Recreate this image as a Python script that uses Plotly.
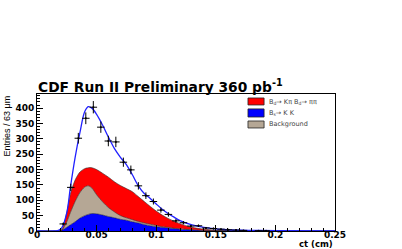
import plotly.graph_objects as go

# ---- data ----
grid_x = [0, 0.015, 0.018, 0.021, 0.025, 0.028, 0.032, 0.036, 0.040, 0.043, 0.046, 0.050,
          0.055, 0.060, 0.065, 0.070, 0.075, 0.080, 0.085, 0.090, 0.095, 0.100, 0.105,
          0.110, 0.115, 0.120, 0.130, 0.140, 0.150, 0.160, 0.180, 0.200, 0.250]
total_fit = [0, 0, 2, 12, 60, 142, 240, 320, 388, 405, 400, 380,
             345, 305, 268, 240, 216, 183, 147, 122, 106, 88, 71,
             57, 45, 34, 20, 12, 7, 4, 2, 1, 0.3]
bd_top = [0, 0, 0, 5, 60, 120, 166, 192, 203, 206, 206, 200,
          188, 175, 160, 148, 138, 128, 112, 96, 80, 65, 52,
          41, 32, 24, 12, 6, 3, 1.5, 0.5, 0.2, 0]
bkg_top = [0, 0, 0, 3, 30, 60, 96, 125, 143, 147, 140, 118,
           95, 76, 62, 50, 43, 37, 31, 26, 22, 18, 14,
           12, 9, 7, 4, 2, 1.5, 1, 0.4, 0.1, 0]
bs_kk = [0, 0, 0, 3, 12, 20, 30, 42, 50, 54, 57, 56,
         52, 47, 43, 38, 35, 30, 26, 21, 17, 14, 12,
         10, 8, 6, 4, 2, 1.5, 1, 0.4, 0.1, 0]

data_x = [0.02205, 0.02835, 0.03465, 0.04095, 0.04725, 0.05355, 0.05985, 0.06615,
          0.07245, 0.07875, 0.08505, 0.09135, 0.09765, 0.10395, 0.11025, 0.11655,
          0.12285, 0.12915, 0.13545, 0.14175, 0.14805, 0.15435, 0.16065, 0.16695,
          0.17325, 0.18585, 0.19215]
data_y = [23, 142, 302, 367, 403, 338, 293, 290,
          224, 199, 147, 115, 96, 68, 54, 33,
          27, 16, 17, 10, 8, 6, 4, 3,
          2, 1, 1]
data_err = [v ** 0.5 for v in data_y]
half_bin = 0.00315

x_ticks = [0, 0.05, 0.1, 0.15, 0.2, 0.25]
x_ticklabels = ["0", "0.05", "0.1", "0.15", "0.2", "0.25"]
y_ticks = [0, 50, 100, 150, 200, 250, 300, 350, 400]

legend_labels = ["B<sub>d</sub>\u2192 K\u03c0 B<sub>d</sub>\u2192 \u03c0\u03c0",
                 "B<sub>s</sub>\u2192 K K", "Background"]
legend_colors = ["#ff0000", "#0000ff", "#b5a795"]

BOLD = "DejaVu Sans"

fig = go.Figure()
fig.add_trace(go.Scatter(x=grid_x, y=bs_kk, mode="lines", fill="tozeroy",
                         fillcolor="#0000ff", line=dict(color="#202040", width=0.6, shape="spline", smoothing=0.8)))
fig.add_trace(go.Scatter(x=grid_x, y=bkg_top, mode="lines", fill="tonexty",
                         fillcolor="#b5a795", line=dict(color="#333333", width=0.6, shape="spline", smoothing=0.8)))
fig.add_trace(go.Scatter(x=grid_x, y=bd_top, mode="lines", fill="tonexty",
                         fillcolor="#ff0000", line=dict(color="#333333", width=0.6, shape="spline", smoothing=0.8)))
fig.add_trace(go.Scatter(x=grid_x, y=total_fit, mode="lines",
                         line=dict(color="#2020ff", width=1.3, shape="spline", smoothing=1.0)))
fig.add_trace(go.Scatter(x=data_x, y=data_y, mode="markers",
                         marker=dict(size=2, color="black"),
                         error_y=dict(type="data", array=data_err, color="black", thickness=1, width=0),
                         error_x=dict(type="constant", value=half_bin, color="black", thickness=1, width=0)))

# legend drawn inside the frame
sw_y = [(0.971, 0.920), (0.891, 0.832), (0.803, 0.752)]
txt_y = [0.945, 0.861, 0.781]
for lab, col, (y1, y0), ty in zip(legend_labels, legend_colors, sw_y, txt_y):
    fig.add_shape(type="rect", xref="paper", yref="paper", x0=0.708, x1=0.762, y0=y0, y1=y1,
                  fillcolor=col, line=dict(color="#222222", width=0.8))
    fig.add_annotation(xref="paper", yref="paper", x=0.772, y=ty, text=lab, showarrow=False,
                       xanchor="left", yanchor="middle", font=dict(family="DejaVu Sans", size=6.5, color="#444444"))

fig.add_annotation(xref="paper", yref="paper", x=-0.003, y=0.975, xanchor="left", yanchor="bottom",
                   text="CDF Run II Preliminary 360 pb<sup>-1</sup>", showarrow=False,
                   font=dict(family=BOLD, size=13.8, color="black", weight="bold"))
fig.add_annotation(xref="paper", yref="paper", x=1.0, y=-0.095, xanchor="right", yanchor="middle",
                   text="ct (cm)", showarrow=False,
                   font=dict(family=BOLD, size=8.5, color="black", weight="bold"))
fig.add_annotation(xref="paper", yref="paper", x=-0.104, y=1.0, xanchor="center", yanchor="top",
                   text="Entries / 63 \u03bcm", textangle=-90, showarrow=False,
                   font=dict(family="Liberation Sans Narrow, Liberation Sans", size=9, color="black"))

fig.update_xaxes(range=[0, 0.25], tickvals=x_ticks, ticktext=x_ticklabels,
                 ticks="inside", ticklen=6, tickwidth=1, tickcolor="black", automargin=False,
                 ticklabelstandoff=-5,
                 minor=dict(ticks="inside", ticklen=3, dtick=0.01, tickcolor="black"),
                 showgrid=False, zeroline=False, showline=True, linecolor="black", linewidth=1,
                 mirror=True, tickfont=dict(family=BOLD, size=9, color="black", weight="bold"))
fig.update_yaxes(range=[0, 446], tickvals=y_ticks,
                 ticks="inside", ticklen=6, tickwidth=1, tickcolor="black", automargin=False,
                 minor=dict(ticks="inside", ticklen=3, dtick=10, tickcolor="black"),
                 showgrid=False, zeroline=False, showline=True, linecolor="black", linewidth=1,
                 mirror=True, tickfont=dict(family=BOLD, size=9, color="black", weight="bold"))

fig.update_layout(width=402, height=249, showlegend=False,
                  margin=dict(l=37, r=67, t=94, b=18),
                  paper_bgcolor="white", plot_bgcolor="white")

fig.write_html("out.html", config={"displayModeBar": False},
               post_script="document.body.style.margin='0';")
